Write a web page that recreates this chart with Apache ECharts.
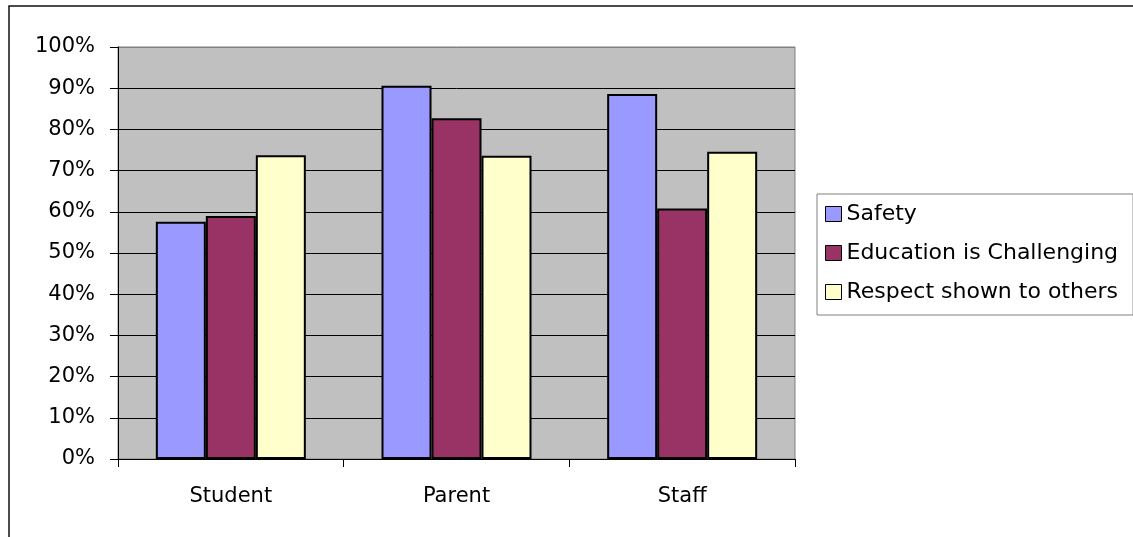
<!DOCTYPE html>
<html>
<head>
<meta charset="utf-8">
<script src="https://cdn.jsdelivr.net/npm/echarts@6/dist/echarts.min.js"></script>
<style>
html,body{margin:0;padding:0;background:#fff;}
#chart{width:1133px;height:537px;}
</style>
</head>
<body>
<div id="chart"></div>
<script>
const categories = ['Student', 'Parent', 'Staff'];
const seriesNames = ['Safety', 'Education is Challenging', 'Respect shown to others'];
const safety = [57.6, 90.6, 88.6];
const education = [59.0, 82.7, 60.8];
const respect = [73.7, 73.6, 74.6];
const yTicks = [0, 10, 20, 30, 40, 50, 60, 70, 80, 90, 100];

const colors = ['#9999FF', '#993366', '#FFFFCC'];
const values = [safety, education, respect];
const FONT = 'DejaVu Sans';
const gridColors = yTicks.map(v => (v === 100 ? '#808080' : '#000'));

const chart = echarts.init(document.getElementById('chart'), null, {renderer: 'canvas'});
chart.setOption({
  animation: false,
  textStyle: {fontFamily: FONT},
  graphic: [{
    type: 'rect',
    shape: {x: 9, y: 6, width: 1300, height: 700},
    style: {fill: 'none', stroke: '#111', lineWidth: 1.5},
    silent: true,
    z: 100
  }],
  grid: {
    left: 118, right: 338, top: 47, bottom: 78,
    show: true,
    backgroundColor: '#C0C0C0',
    borderColor: '#808080',
    borderWidth: 1
  },
  legend: {
    orient: 'vertical',
    left: 817, top: 194,
    padding: [9, 15, 12, 8],
    itemWidth: 16, itemHeight: 15,
    itemGap: 17,
    itemTextGap: 6,
    borderColor: '#808080',
    borderWidth: 1,
    backgroundColor: '#fff',
    icon: 'rect',
    itemStyle: {borderColor: '#000', borderWidth: 1},
    textStyle: {fontFamily: FONT, fontSize: 22, color: '#000', lineHeight: 22},
    data: seriesNames
  },
  xAxis: {
    type: 'category',
    data: categories,
    axisLine: {lineStyle: {color: '#000', width: 1}},
    axisTick: {show: true, length: 8, alignWithLabel: false, lineStyle: {color: '#000'}},
    axisLabel: {margin: 27, fontFamily: FONT, fontSize: 21, color: '#000'},
    splitLine: {show: false}
  },
  yAxis: {
    type: 'value',
    min: 0, max: 100, interval: 10,
    axisLine: {show: true, lineStyle: {color: '#000', width: 1}},
    axisTick: {show: true, length: 8, lineStyle: {color: '#000'}},
    axisLabel: {
      margin: 23, fontFamily: FONT, fontSize: 21, color: '#000',
      formatter: v => (yTicks.indexOf(v) >= 0 ? v + '%' : '')
    },
    splitLine: {show: true, lineStyle: {color: gridColors, width: 1}}
  },
  series: seriesNames.map((name, i) => ({
    name: name,
    type: 'bar',
    data: values[i],
    barWidth: 50,
    barGap: '0%',
    itemStyle: {color: colors[i], borderColor: '#000', borderWidth: 2}
  }))
});
</script>
</body>
</html>
